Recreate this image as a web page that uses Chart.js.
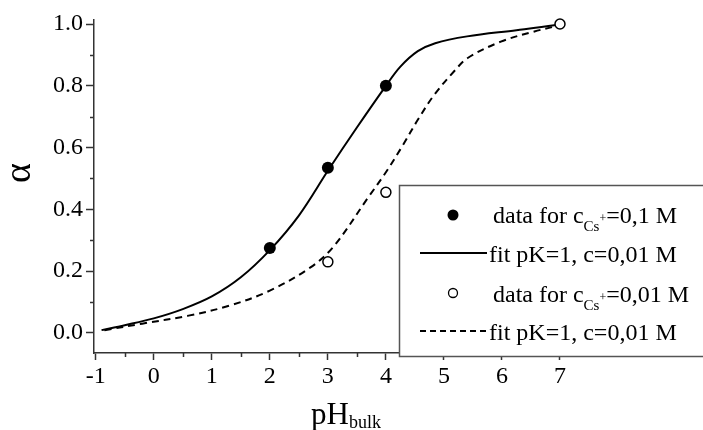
<!DOCTYPE html>
<html>
<head>
<meta charset="utf-8">
<script src="https://cdn.jsdelivr.net/npm/chart.js@4.4.0/dist/chart.umd.min.js"></script>
<style>
  html, body { margin: 0; padding: 0; background: #fff; }
</style>
</head>
<body>
<canvas id="myChart" width="703" height="430"></canvas>
<script>
const ctx = document.getElementById('myChart');

// measured degree of dissociation
const phData01 = [2, 3, 4];
const alphaData01 = [0.275, 0.535, 0.80];
const phData001 = [3, 4, 7];
const alphaData001 = [0.23, 0.455, 1.0];

// fitted curves
const phFit01 = [-0.9, -0.5, 0, 0.5, 1.0, 1.5, 2.0, 2.5, 3.0, 3.5, 4.0, 4.25, 4.55, 4.85, 5.4, 6.25, 6.9, 7.0];
const alphaFit01 = [0.009, 0.025, 0.047, 0.077, 0.118, 0.18, 0.268, 0.38, 0.525, 0.665, 0.80, 0.862, 0.912, 0.938, 0.96, 0.98, 0.996, 1.0];
const phFit001 = [-0.85, -0.2, 0.6, 1.3, 2.0, 2.7, 3.1, 3.7, 4.0, 4.3, 4.55, 4.83, 5.18, 5.41, 5.98, 6.56, 6.9, 7.0];
const alphaFit001 = [0.009, 0.03, 0.056, 0.088, 0.137, 0.212, 0.28, 0.44, 0.52, 0.61, 0.69, 0.77, 0.848, 0.89, 0.943, 0.976, 0.992, 1.0];

// axis ticks
const xMajor = [-1, 0, 1, 2, 3, 4, 5, 6, 7];
const xMinor = [-0.5, 0.5, 1.5, 2.5, 3.5, 4.5, 5.5, 6.5];
const yMajor = [0, 0.2, 0.4, 0.6, 0.8, 1.0];
const yMinor = [0.1, 0.3, 0.5, 0.7, 0.9];

// legend text, split into normal / subscript / superscript runs
const legendRows = [
  { mark: 'filled', parts: [['data for c', 'n'], ['Cs', 'sub'], ['+', 'sup'], ['=0,1 M', 'n']] },
  { mark: 'solid', parts: [['fit pK=1, c=0,01 M', 'n']] },
  { mark: 'open', parts: [['data for c', 'n'], ['Cs', 'sub'], ['+', 'sup'], ['=0,01 M', 'n']] },
  { mark: 'dashed', parts: [['fit pK=1, c=0,01 M', 'n']] }
];

const FONT = '"Liberation Serif", "Times New Roman", serif';
const AXIS = '#333';

function pts(xs, ys) {
  return xs.map((x, i) => ({ x: x, y: ys[i] }));
}

function richText(c, parts, x, y) {
  let cx = x;
  parts.forEach(p => {
    let size = 24, dy = 0;
    if (p[1] === 'sub') { size = 15; dy = 8; }
    if (p[1] === 'sup') { size = 12; dy = -1; }
    c.font = size + 'px ' + FONT;
    c.fillText(p[0], cx, y + dy);
    cx += c.measureText(p[0]).width;
  });
}

const extras = {
  id: 'extras',
  afterDraw(chart) {
    const c = chart.ctx;
    const xs = chart.scales.x, ys = chart.scales.y;
    const area = chart.chartArea;
    c.save();

    // minor ticks
    c.strokeStyle = AXIS;
    c.lineWidth = 1.5;
    c.beginPath();
    xMinor.forEach(v => {
      const px = Math.round(xs.getPixelForValue(v)) + 0.5;
      c.moveTo(px, area.bottom);
      c.lineTo(px, area.bottom + 4);
    });
    yMinor.forEach(v => {
      const py = Math.round(ys.getPixelForValue(v)) + 0.5;
      c.moveTo(area.left - 4, py);
      c.lineTo(area.left, py);
    });
    c.stroke();

    // axis titles
    c.fillStyle = '#000';
    c.textBaseline = 'alphabetic';
    c.textAlign = 'left';
    c.font = '31px ' + FONT;
    c.fillText('pH', 311, 424);
    const w = c.measureText('pH').width;
    c.font = '18px ' + FONT;
    c.fillText('bulk', 311 + w, 428);

    c.save();
    c.translate(30, 173);
    c.rotate(-Math.PI / 2);
    c.textAlign = 'center';
    c.font = '38px ' + FONT;
    c.fillText('\u03b1', 0, 0);
    c.restore();

    // legend box
    c.fillStyle = '#fff';
    c.fillRect(399, 185, 310, 172);
    c.strokeStyle = '#555';
    c.lineWidth = 1.5;
    c.strokeRect(399.5, 185.5, 310, 171);

    const rowY = [223, 262, 302, 340];
    legendRows.forEach((r, i) => {
      const y = rowY[i];
      c.strokeStyle = '#000';
      c.fillStyle = '#000';
      if (r.mark === 'filled') {
        c.beginPath();
        c.arc(453, y - 8, 5.5, 0, Math.PI * 2);
        c.fill();
      } else if (r.mark === 'open') {
        c.beginPath();
        c.arc(453, y - 9, 4.5, 0, Math.PI * 2);
        c.lineWidth = 1.3;
        c.stroke();
      } else {
        c.lineWidth = 2;
        c.setLineDash(r.mark === 'dashed' ? [6, 4] : []);
        c.beginPath();
        c.moveTo(420, y - 9);
        c.lineTo(487, y - 9);
        c.stroke();
        c.setLineDash([]);
      }
      c.fillStyle = '#000';
      c.textAlign = 'left';
      richText(c, r.parts, r.mark === 'filled' || r.mark === 'open' ? 493 : 489, y);
    });
    c.restore();
  }
};

new Chart(ctx, {
  type: 'scatter',
  data: {
    datasets: [
      {
        label: 'data for cCs+=0,1 M',
        data: pts(phData01, alphaData01),
        pointRadius: 6,
        pointBackgroundColor: '#000',
        pointBorderColor: '#000',
        pointBorderWidth: 0,
        clip: false
      },
      {
        label: 'data for cCs+=0,01 M',
        data: pts(phData001, alphaData001),
        pointRadius: 5,
        pointBackgroundColor: '#fff',
        pointBorderColor: '#000',
        pointBorderWidth: 1.5,
        clip: false
      },
      {
        label: 'fit pK=1, c=0,01 M',
        data: pts(phFit01, alphaFit01),
        showLine: true,
        borderColor: '#000',
        borderWidth: 2,
        pointRadius: 0,
        tension: 0.35,
        clip: false
      },
      {
        label: 'fit pK=1, c=0,01 M',
        data: pts(phFit001, alphaFit001),
        showLine: true,
        borderColor: '#000',
        borderWidth: 2,
        borderDash: [7, 5],
        pointRadius: 0,
        tension: 0.35,
        clip: false
      }
    ]
  },
  options: {
    responsive: false,
    animation: false,
    devicePixelRatio: 1,
    layout: { padding: { left: 0, top: 20, right: 114, bottom: 0 } },
    plugins: { legend: { display: false }, tooltip: { enabled: false } },
    scales: {
      x: {
        type: 'linear',
        min: -1.03,
        max: 7.5,
        afterBuildTicks: s => { s.ticks = xMajor.map(v => ({ value: v })); },
        afterFit: s => { s.height = 77; },
        ticks: {
          color: '#000',
          padding: 2,
          maxRotation: 0,
          font: { family: FONT, size: 24 },
          callback: v => String(v)
        },
        grid: { display: true, drawOnChartArea: false, drawTicks: true, tickLength: 7, tickColor: AXIS, tickWidth: 1.5 },
        border: { display: true, color: AXIS, width: 1.5 }
      },
      y: {
        type: 'linear',
        min: -0.065,
        max: 1.013,
        afterBuildTicks: s => { s.ticks = yMajor.map(v => ({ value: v })); },
        afterFit: s => { s.width = 94; },
        ticks: {
          color: '#000',
          padding: 3,
          font: { family: FONT, size: 24 },
          callback: v => v.toFixed(1)
        },
        grid: { display: true, drawOnChartArea: false, drawTicks: true, tickLength: 8, tickColor: AXIS, tickWidth: 1.5 },
        border: { display: true, color: AXIS, width: 1.5 }
      }
    }
  },
  plugins: [extras]
});
</script>
</body>
</html>
